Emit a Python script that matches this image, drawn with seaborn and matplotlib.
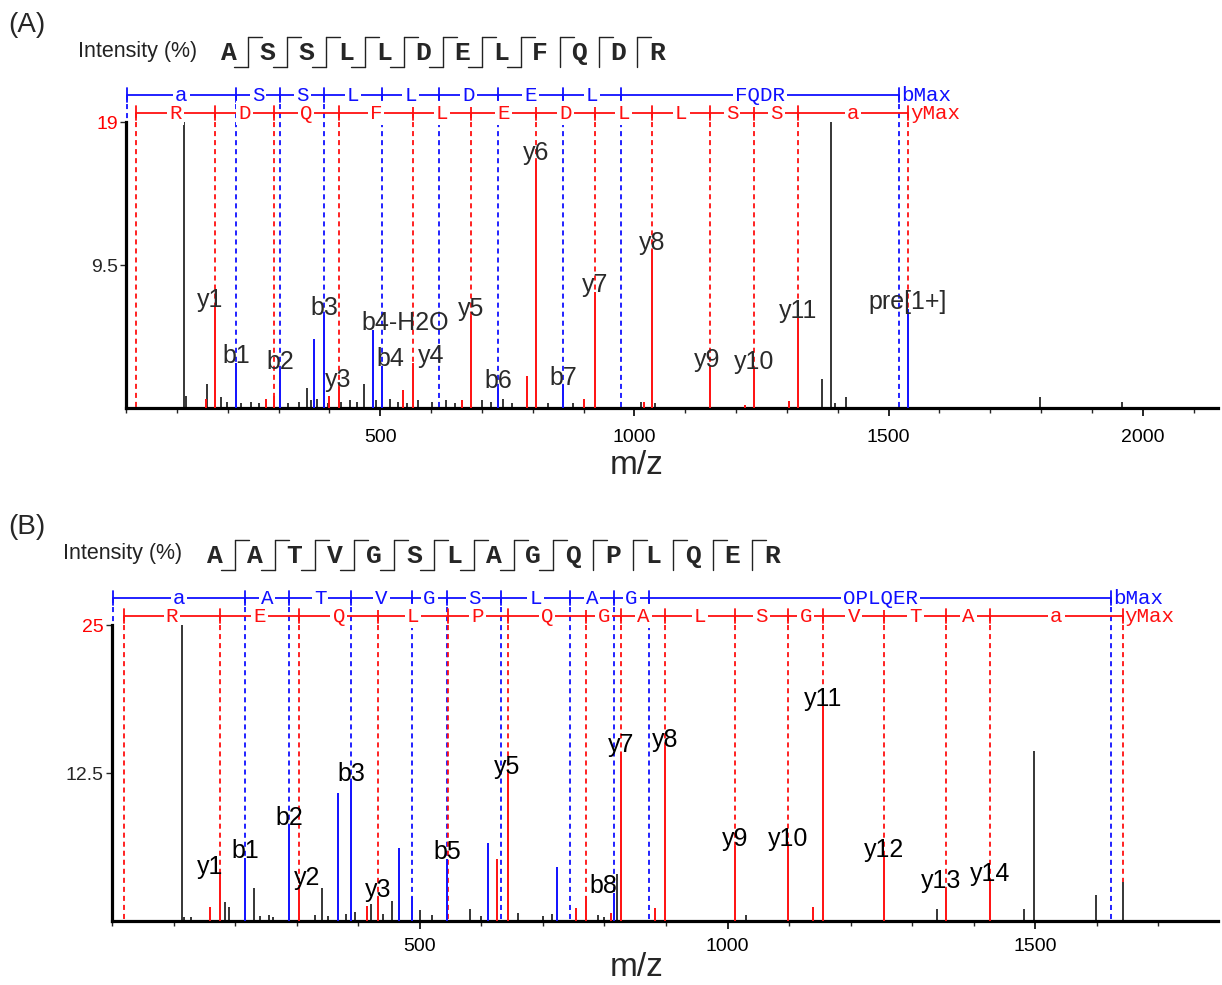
import numpy as np
import pandas as pd
import matplotlib
matplotlib.use("Agg")
import matplotlib.pyplot as plt
from matplotlib.lines import Line2D
from matplotlib.ticker import MultipleLocator
import seaborn as sns

# ---------------- panel A : ASSLLDELFQDR ----------------
seq_a = "ASSLLDELFQDR"
b_cuts_a = [1, 2, 3, 4, 5, 6, 7, 8]
y_cuts_a = [1, 2, 3, 4, 5, 6, 7, 8, 9, 10, 11]

b_ladder_a = [1.0, 216.1, 303.2, 390.2, 503.3, 616.4, 731.4, 860.4, 973.5, 1519.8]
b_steps_a = ["a", "S", "S", "L", "L", "D", "E", "L", "FQDR"]
y_ladder_a = [19.0, 175.1, 290.2, 418.2, 565.3, 678.4, 807.4, 922.4, 1035.5,
              1148.6, 1235.6, 1322.7, 1537.8]
y_steps_a = ["R", "D", "Q", "F", "L", "E", "D", "L", "L", "S", "S", "a"]

blue_mz_a = [216.1, 303.2, 369.0, 390.2, 485.0, 503.3, 731.4, 860.4, 1537.8]
blue_int_a = [3.0, 2.6, 4.6, 6.2, 5.2, 2.8, 1.3, 1.5, 6.6]
red_mz_a = [158, 175.1, 276, 290.2, 399, 418.2, 545, 565.3, 661, 678.4, 789, 807.4,
            900, 922.4, 1018, 1035.5, 1148.6, 1218, 1235.6, 1305, 1322.7]
red_int_a = [0.6, 6.7, 0.6, 0.8, 0.8, 1.4, 1.2, 3.0, 0.5, 6.1, 2.1, 16.5,
             0.6, 7.7, 0.4, 10.5, 2.7, 0.2, 2.6, 0.45, 6.0]
black_mz_a = [114, 118, 160, 186, 199, 226, 245, 262, 318, 340, 357, 363, 376, 397,
              423, 440, 455, 469, 492, 520, 536, 552, 575, 602, 630, 648, 700, 718,
              742, 760, 830, 880, 1014, 1040, 1370, 1386, 1395, 1417, 1797, 1960]
black_int_a = [19, 0.8, 1.6, 0.7, 0.4, 0.3, 0.4, 0.3, 0.3, 0.4, 1.3, 0.5, 0.6, 0.3,
               0.4, 0.5, 0.4, 1.6, 0.5, 0.6, 0.4, 0.3, 0.5, 0.4, 0.5, 0.3, 0.5, 0.4,
               0.6, 0.3, 0.3, 0.3, 0.4, 0.3, 1.9, 19, 0.3, 0.7, 0.7, 0.4]

labels_a = ["y1", "b1", "b2", "b3", "b4-H2O", "y3", "b4", "y4", "y5", "b6", "y6",
            "b7", "y7", "y8", "y9", "y10", "y11", "pre[1+]"]
label_mz_a = [175.1, 216.1, 303.2, 390.2, 485.0, 418.2, 503.3, 565.3, 678.4, 731.4,
              807.4, 860.4, 922.4, 1035.5, 1148.6, 1235.6, 1322.7, 1537.8]

# ---------------- panel B : AATVGSLAGQPLQER ----------------
seq_b = "AATVGSLAGQPLQER"
b_cuts_b = [1, 2, 3, 4, 5, 6, 7, 8, 9]
y_cuts_b = [1, 2, 3, 4, 5, 6, 7, 8, 9, 10, 11, 12, 13, 14]

b_ladder_b = [1.0, 216.1, 287.2, 388.2, 487.3, 544.3, 631.4, 744.4, 815.5, 872.5, 1623.9]
b_steps_b = ["a", "A", "T", "V", "G", "S", "L", "A", "G", "QPLQER"]
y_ladder_b = [19.0, 175.1, 304.2, 432.2, 545.3, 642.4, 770.4, 827.4, 898.5, 1011.5,
              1098.6, 1155.6, 1254.7, 1355.7, 1426.8, 1641.9]
y_steps_b = ["R", "E", "Q", "L", "P", "Q", "G", "A", "L", "S", "G", "V", "T", "A", "a"]

blue_mz_b = [216.1, 287.2, 366.5, 388.2, 466, 487.3, 544.3, 610, 723.6, 815.5]
blue_int_b = [5.3, 8.1, 10.8, 11.8, 6.2, 2.0, 5.2, 6.6, 4.6, 2.4]
red_mz_b = [159, 175.1, 304.2, 413.5, 432.2, 626, 642.4, 753.7, 770.4, 810.6, 827.4,
            882, 898.5, 1011.5, 1098.6, 1139.5, 1155.6, 1254.7, 1355.7, 1426.8]
red_int_b = [1.2, 4.0, 3.0, 1.3, 2.0, 5.2, 12.4, 1.1, 2.1, 0.7, 14.3,
             1.1, 14.7, 6.3, 6.3, 1.2, 18.2, 5.4, 2.8, 3.4]
black_mz_b = [113, 117, 128, 184, 189, 230.5, 240, 255, 262, 330, 340.5, 350, 380,
              395, 420, 440, 455, 500, 520, 581.5, 600, 660, 700, 715, 790, 800, 820,
              1030, 1340, 1482, 1498, 1598, 1643]
black_int_b = [25, 0.3, 0.3, 1.6, 1.2, 2.8, 0.4, 0.5, 0.3, 0.5, 2.8, 0.4, 0.6,
               0.8, 1.4, 0.6, 1.7, 0.9, 0.5, 1.0, 0.4, 0.7, 0.4, 0.6, 0.5, 0.3, 4.0,
               0.5, 1.0, 1.0, 14.4, 2.2, 3.3]

labels_b = ["y1", "b1", "b2", "y2", "b3", "y3", "b5", "y5", "y7", "b8", "y8", "y9",
            "y10", "y11", "y12", "y13", "y14"]
label_mz_b = [175.1, 216.1, 287.2, 304.2, 388.2, 432.2, 544.3, 642.4, 827.4, 815.5,
              898.5, 1011.5, 1098.6, 1155.6, 1254.7, 1355.7, 1426.8]

W, H = 1222, 985
BLUE, RED = "#1010ff", "#ff1010"

sns.set_theme(style="white")
plt.rcParams["font.family"] = ["Liberation Sans", "DejaVu Sans"]

fig = plt.figure(figsize=(W / 100, H / 100), dpi=100)


def fx(px):
    return px / W


def fy(py):
    return 1 - py / H


def find_int(mz, mzs, ints, tol=2.5):
    best = 0.0
    for m, i in zip(mzs, ints):
        if abs(m - mz) <= tol:
            best = max(best, i)
    return best


def panel(ax, ymax, yticks, ppu, seq, b_cuts, y_cuts, bl, bs, yl, ys,
          blue, red, black, labels, label_mz, shifts, lab_color,
          tag, tag_xy, int_x, seq_x0, seq_dx, seq_y):
    bm, bi = blue
    rm, ri = red
    km, ki = black
    # peaks
    ax.vlines(km, 0, ki, color="black", lw=1.1, zorder=3)
    ax.vlines(rm, 0, ri, color=RED, lw=1.4, zorder=3)
    ax.vlines(bm, 0, bi, color=BLUE, lw=1.4, zorder=3)

    allm = list(bm) + list(rm) + list(km)
    alli = list(bi) + list(ri) + list(ki)
    row_b = ymax + 27 * ppu
    row_y = ymax + 9 * ppu
    d = 7 * ppu
    for ladder, steps, row, col, mz_c, in_c, end in [
            (bl, bs, row_b, BLUE, bm, bi, "bMax"),
            (yl, ys, row_y, RED, rm, ri, "yMax")]:
        for k, pos in enumerate(ladder):
            if k == len(ladder) - 1:
                stop = find_int(pos, allm, alli, 3)
            else:
                stop = find_int(pos, mz_c, in_c)
            ax.plot([pos, pos], [row, stop], color=col, lw=1.3,
                    ls=(0, (2.8, 2.2)), clip_on=False, zorder=2)
            ax.plot([pos, pos], [row - d, row + d], color=col, lw=1.3,
                    clip_on=False, zorder=2)
        ax.plot([ladder[0], ladder[-1]], [row, row], color=col, lw=1.3,
                clip_on=False, zorder=2)
        for k, s in enumerate(steps):
            ax.text((ladder[k] + ladder[k + 1]) / 2, row, s, color=col,
                    family="Liberation Mono", fontsize=15, ha="center",
                    va="center", zorder=4, clip_on=False,
                    bbox=dict(boxstyle="square,pad=0.1", fc="white", ec="none"))
        ax.annotate(end, (ladder[-1], row), xytext=(1.5, 0),
                    textcoords="offset points", color=col,
                    family="Liberation Mono", fontsize=15, ha="left",
                    va="center", annotation_clip=False, zorder=4)

    # ion labels
    for lab, mz in zip(labels, label_mz):
        inten = find_int(mz, allm, alli, 0.5)
        dx, ha = shifts.get(lab, (0, "center"))
        ax.annotate(lab, (mz, inten), xytext=(dx * 0.72, 0),
                    textcoords="offset points", ha=ha, va="baseline",
                    fontsize=18, color=lab_color, zorder=5,
                    annotation_clip=False)

    ax.set_ylim(0, ymax)
    ax.set_yticks(yticks)
    ax.set_yticklabels([f"{t:g}" for t in yticks])
    ax.get_yticklabels()[-1].set_color("red")
    ax.xaxis.set_minor_locator(MultipleLocator(100))
    ax.tick_params(axis="x", which="major", direction="out", length=6,
                   width=1.2, labelsize=14, bottom=True, colors="black")
    ax.tick_params(axis="x", which="minor", direction="out", length=3.5,
                   width=1.0, bottom=True)
    ax.tick_params(axis="y", direction="out", length=4, width=1.0,
                   labelsize=14, left=True, pad=2)
    for sp in ["top", "right"]:
        ax.spines[sp].set_visible(False)
    for sp in ["left", "bottom"]:
        ax.spines[sp].set_linewidth(2.3)
        ax.spines[sp].set_color("black")
    ax.grid(False)

    # panel tag, intensity title and sequence
    fig.text(fx(tag_xy[0]), fy(tag_xy[1]), tag, fontsize=20, va="center")
    fig.text(fx(int_x), fy(seq_y - 2), "Intensity (%)", fontsize=15.5,
             va="center", color="#222222")
    for i, ch in enumerate(seq):
        fig.text(fx(seq_x0 + i * seq_dx), fy(seq_y), ch, fontsize=19,
                 family="Liberation Mono", weight="bold", ha="center",
                 va="center")
    for k in sorted(set(b_cuts) | set(y_cuts)):
        xm = seq_x0 + (k - 0.5) * seq_dx
        fig.add_artist(Line2D([fx(xm), fx(xm)], [fy(seq_y - 16), fy(seq_y + 14)],
                              transform=fig.transFigure, color="#222222", lw=1.0))
        if k in y_cuts:
            fig.add_artist(Line2D([fx(xm), fx(xm + 14)], [fy(seq_y - 16)] * 2,
                                  transform=fig.transFigure, color="#222222", lw=1.0))
        if k in b_cuts:
            fig.add_artist(Line2D([fx(xm - 14), fx(xm)], [fy(seq_y + 14)] * 2,
                                  transform=fig.transFigure, color="#222222", lw=1.0))


# panel A axes: x 126..1218 px, y 122..408 px
ax_a = fig.add_axes([fx(126), fy(408), (1218 - 126) / W, (408 - 122) / H])
ax_a.set_xlim(0, 2148)
ax_a.set_xticks([500, 1000, 1500, 2000])
ax_a.tick_params(axis="x", which="major", pad=9)
panel(ax_a, 19, [9.5, 19], 19 / 286, seq_a, b_cuts_a, y_cuts_a,
      b_ladder_a, b_steps_a, y_ladder_a, y_steps_a,
      (blue_mz_a, blue_int_a), (red_mz_a, red_int_a), (black_mz_a, black_int_a),
      labels_a, label_mz_a,
      {"y1": (-5, "center"), "b4-H2O": (-11, "left"), "b4": (9, "center"),
       "y4": (18, "center"), "y9": (-3, "center")},
      "#2a2a2a", "(A)", (8, 25), 78, 229, 38.9, 53)
ax_a.text((637 - 126) / 1092, -58 / 286, "m/z", transform=ax_a.transAxes,
          fontsize=24, ha="center", va="center")

# panel B axes: x 112..1218 px, y 625..921 px
ax_b = fig.add_axes([fx(112.2), fy(921), (1218 - 112.2) / W, (921 - 625) / H])
ax_b.set_xlim(0, 1797)
ax_b.set_xticks([500, 1000, 1500])
ax_b.tick_params(axis="x", which="major", pad=6)
panel(ax_b, 25, [12.5, 25], 25 / 296, seq_b, b_cuts_b, y_cuts_b,
      b_ladder_b, b_steps_b, y_ladder_b, y_steps_b,
      (blue_mz_b, blue_int_b), (red_mz_b, red_int_b), (black_mz_b, black_int_b),
      labels_b, label_mz_b,
      {"y1": (-10, "center"), "y2": (8, "center"), "b8": (-11, "center"),
       "y13": (-5, "center")},
      "black", "(B)", (8, 527), 63, 215, 39.8, 556)
ax_b.text((636 - 112) / 1106, -47 / 296, "m/z", transform=ax_b.transAxes,
          fontsize=24, ha="center", va="center")

fig.savefig("out.png", dpi=100)
